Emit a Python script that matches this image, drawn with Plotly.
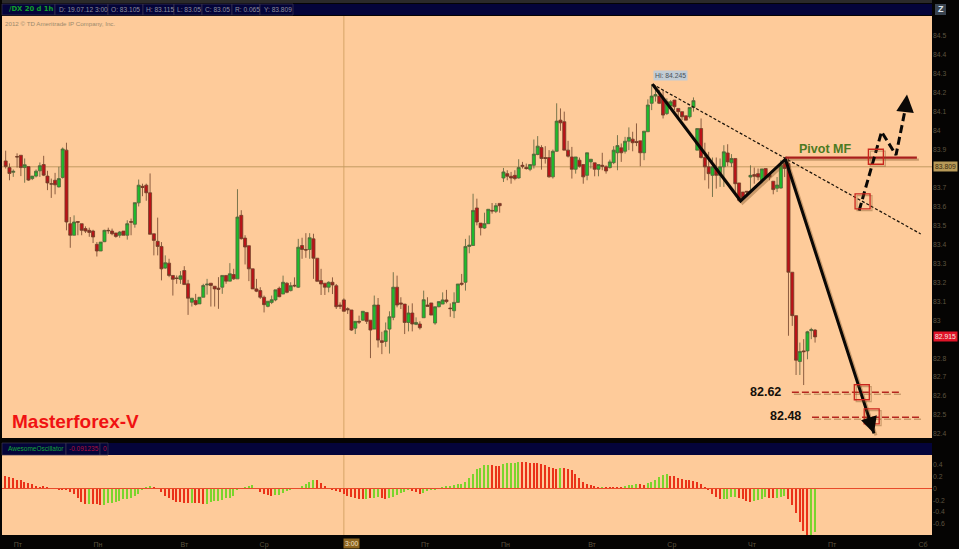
import plotly.graph_objects as go

# ---------- price candles (bar by bar) ----------
opens = [83.84,83.805,83.78,83.863,83.87,83.805,83.81,83.747,83.76,83.788,83.821,83.76,83.72,83.738,83.703,83.753,83.897,83.509,83.448,83.52,
83.509,83.483,83.474,83.47,83.40,83.365,83.414,83.474,83.47,83.46,83.448,83.47,83.448,83.52,83.506,83.619,83.706,83.712,83.672,83.456,
83.416,83.389,83.275,83.301,83.236,83.223,83.216,83.262,83.192,83.095,83.104,83.086,83.121,83.186,83.195,83.179,83.169,83.174,83.236,83.206,
83.241,83.218,83.553,83.433,83.393,83.271,83.165,83.156,83.121,83.073,83.094,83.107,83.168,83.138,83.195,83.156,83.184,83.174,83.394,83.373,
83.373,83.429,83.327,83.209,83.195,83.174,83.2,83.182,83.08,83.107,83.061,83.054,82.958,82.994,83.0,83.041,83.0,82.953,83.08,82.892,
82.888,82.953,83.015,83.174,83.091,83.085,82.988,83.038,82.978,82.98,83.013,83.08,83.091,82.985,83.071,83.085,83.107,83.064,83.05,83.094,
83.195,83.2,83.389,83.394,83.592,83.512,83.486,83.509,83.579,83.574,83.616,83.75,83.773,83.759,83.764,83.75,83.817,83.805,83.796,83.817,
83.874,83.911,83.858,83.858,83.756,83.891,84.055,84.047,83.897,83.861,83.796,83.844,83.821,83.764,83.835,83.83,83.796,83.817,83.809,83.805,
83.831,83.883,83.909,83.891,83.944,83.955,83.943,83.946,83.883,83.994,84.144,84.182,84.182,84.17,84.09,84.13,84.161,84.117,84.1,84.078,
84.073,84.122,83.897,84.011,83.858,83.809,83.764,83.8,83.764,83.809,83.882,83.83,83.853,83.724,83.676,83.68,83.755,83.768,83.773,83.738,
83.80,83.768,83.733,83.696,83.697,83.826,83.826,83.253,83.024,82.782,82.838,82.838,82.945,82.948]
highs = [83.894,83.827,83.795,83.88,83.87,83.853,83.81,83.76,83.795,83.832,83.867,83.788,83.747,83.777,83.809,83.911,83.936,83.544,83.553,83.52,
83.509,83.495,83.488,83.477,83.412,83.412,83.477,83.488,83.483,83.46,83.47,83.47,83.527,83.536,83.62,83.742,83.72,83.72,83.774,83.456,
83.541,83.412,83.342,83.324,83.236,83.236,83.259,83.285,83.213,83.116,83.139,83.121,83.192,83.218,83.195,83.179,83.227,83.236,83.236,83.301,
83.271,83.691,83.58,83.448,83.393,83.271,83.218,83.174,83.13,83.10,83.13,83.16,83.177,83.235,83.20,83.20,83.226,83.429,83.435,83.459,
83.459,83.456,83.327,83.271,83.195,83.205,83.226,83.191,83.094,83.115,83.068,83.054,82.994,83.024,83.047,83.041,83.0,83.13,83.117,82.939,
82.988,83.047,83.253,83.235,83.121,83.085,83.077,83.089,83.015,82.994,83.156,83.121,83.091,83.071,83.098,83.147,83.16,83.089,83.147,83.191,
83.244,83.429,83.447,83.667,83.641,83.512,83.567,83.585,83.618,83.618,83.616,83.803,83.791,83.782,83.791,83.849,83.835,83.826,83.821,83.953,
83.971,83.923,83.918,83.897,83.90,84.144,84.117,84.10,83.946,83.914,83.861,83.858,83.821,83.883,83.849,83.83,83.821,83.883,83.817,83.847,
83.918,83.976,83.932,83.967,84.017,83.994,84.038,83.946,83.997,84.165,84.245,84.24,84.214,84.214,84.17,84.161,84.161,84.117,84.1,84.078,
84.122,84.175,84.011,84.064,83.936,83.888,83.858,83.858,83.853,83.923,83.928,83.876,83.853,83.724,83.676,83.68,83.817,83.805,83.80,83.798,
83.80,83.768,83.733,83.755,83.844,83.853,83.86,83.253,83.024,82.882,82.90,82.944,82.96,82.953]
lows = [83.80,83.738,83.756,83.805,83.76,83.725,83.735,83.739,83.753,83.756,83.76,83.686,83.645,83.664,83.70,83.747,83.474,83.382,83.448,83.448,
83.448,83.46,83.44,83.407,83.336,83.365,83.412,83.456,83.448,83.435,83.435,83.448,83.425,83.448,83.488,83.60,83.654,83.63,83.453,83.342,
83.342,83.21,83.271,83.227,83.13,83.192,83.192,83.188,83.028,83.072,83.077,83.086,83.121,83.135,83.072,83.072,83.06,83.139,83.192,83.206,
83.213,83.218,83.425,83.294,83.206,83.165,83.148,83.112,83.041,83.068,83.085,83.10,83.121,83.138,83.142,83.152,83.174,83.17,83.324,83.329,
83.324,83.218,83.205,83.133,83.133,83.147,83.138,83.059,83.059,83.047,83.033,82.944,82.927,82.98,82.997,82.98,82.80,82.953,82.856,82.821,
82.86,82.824,83.0,83.068,83.059,82.927,82.941,82.941,82.974,82.951,83.013,83.073,83.027,82.976,83.068,83.085,83.089,83.018,83.011,83.094,
83.182,83.156,83.353,83.394,83.5,83.447,83.482,83.509,83.562,83.565,83.567,83.729,83.738,83.72,83.738,83.747,83.80,83.794,83.786,83.80,
83.87,83.794,83.826,83.752,83.747,83.888,83.999,83.897,83.858,83.747,83.773,83.805,83.72,83.738,83.80,83.759,83.759,83.791,83.773,83.80,
83.823,83.791,83.835,83.879,83.897,83.891,83.918,83.812,83.844,83.994,84.108,84.153,84.14,84.064,84.082,84.112,84.108,84.064,84.055,84.055,
84.064,84.10,83.897,83.853,83.738,83.694,83.65,83.694,83.703,83.703,83.812,83.808,83.664,83.623,83.64,83.65,83.676,83.72,83.738,83.729,
83.747,83.738,83.664,83.676,83.694,83.755,82.918,82.97,82.711,82.711,82.658,82.794,82.90,82.882]
closes = [83.81,83.774,83.785,83.861,83.805,83.82,83.739,83.76,83.786,83.815,83.765,83.724,83.718,83.714,83.747,83.903,83.518,83.448,83.518,83.517,
83.474,83.47,83.463,83.439,83.365,83.412,83.474,83.472,83.456,83.442,83.465,83.448,83.509,83.517,83.62,83.712,83.70,83.672,83.453,83.421,
83.389,83.271,83.303,83.236,83.216,83.22,83.234,83.188,83.116,83.116,83.083,83.121,83.183,83.19,83.183,83.165,83.163,83.236,83.206,83.245,
83.218,83.544,83.43,83.386,83.271,83.165,83.153,83.121,83.082,83.10,83.108,83.16,83.124,83.20,83.147,83.182,83.181,83.385,83.373,83.37,
83.435,83.327,83.205,83.191,83.174,83.20,83.186,83.071,83.073,83.047,83.055,82.948,82.994,82.99,83.047,82.994,82.948,83.08,82.895,82.883,
82.944,83.018,83.174,83.08,83.085,82.988,83.038,82.98,82.988,82.96,83.108,83.073,83.027,83.071,83.098,83.107,83.098,83.061,83.094,83.191,
83.19,83.389,83.396,83.579,83.518,83.488,83.509,83.585,83.576,83.604,83.604,83.782,83.759,83.75,83.747,83.805,83.812,83.80,83.821,83.876,
83.918,83.853,83.853,83.756,83.891,84.05,84.041,83.897,83.865,83.796,83.861,83.812,83.756,83.883,83.849,83.796,83.821,83.812,83.787,83.835,
83.897,83.921,83.883,83.944,83.964,83.936,83.937,83.883,83.997,84.135,84.182,84.19,84.144,84.082,84.152,84.152,84.126,84.10,84.073,84.055,
84.122,84.158,84.011,83.858,83.809,83.773,83.809,83.764,83.809,83.888,83.835,83.853,83.72,83.632,83.646,83.676,83.764,83.759,83.755,83.798,
83.755,83.755,83.689,83.713,83.817,83.80,83.253,83.024,82.789,82.835,82.834,82.939,82.95,82.912]

# ---------- Awesome Oscillator ----------
ao_values = [.218,.195,.172,.144,.138,.105,.088,.076,.048,.03,.035,.02,.002,.002,-.01,-.01,-.02,-.054,-.1,-.155,
-.223,-.257,-.263,-.257,-.257,-.274,-.28,-.251,-.24,-.223,-.206,-.184,-.172,-.167,-.127,-.1,-.025,.025,.042,.02,
.002,-.065,-.12,-.167,-.195,-.223,-.234,-.246,-.251,-.251,-.251,-.251,-.263,-.257,-.223,-.212,-.206,-.195,-.167,-.155,
-.12,-.025,.002,.03,.048,.06,.002,-.054,-.1,-.116,-.127,-.116,-.11,-.082,-.042,-.025,-.008,.002,.042,.07,
.116,.144,.144,.099,.048,.002,-.014,-.042,-.065,-.088,-.121,-.144,-.161,-.178,-.184,-.178,-.167,-.155,-.15,-.167,
-.178,-.167,-.138,-.11,-.082,-.054,-.03,-.037,-.065,-.1,-.07,-.042,-.025,-.014,.002,.03,.042,.048,.06,.07,
.082,.116,.172,.24,.325,.353,.393,.398,.393,.376,.376,.415,.427,.427,.438,.455,.449,.444,.432,.432,
.427,.41,.393,.37,.342,.33,.342,.342,.33,.308,.246,.172,.116,.082,.06,.042,.025,.025,.02,.014,
.014,.014,.025,.042,.054,.065,.076,.07,.06,.093,.116,.144,.195,.229,.24,.218,.206,.172,.155,.144,
.138,.127,.105,.076,.02,-.02,-.1,-.138,-.178,-.172,-.172,-.144,-.138,-.155,-.184,-.212,-.223,-.212,-.195,-.178,
-.15,-.155,-.155,-.155,-.15,-.133,-.178,-.28,-.41,-.562,-.72,-.85,-.85,-.74]
# first and last bar of each green (rising) run of the oscillator
ao_green_first = [22,26,49,53,71,95,97,101,110,131,146,157,163,169,189,197,203,212]
ao_green_last = [22,38,49,65,81,95,98,106,127,135,146,157,166,174,192,200,205,213]

# ---------- axis labels (83.8 and 82.9 sit behind the price tags) ----------
price_ticks = [84.5,84.4,84.3,84.2,84.1,84.0,83.9,83.7,83.6,83.5,83.4,83.3,83.2,83.1,83.0,82.8,82.7,82.6,82.5,82.4]
price_labels = ["84.5","84.4","84.3","84.2","84.1","84","83.9","83.7","83.6","83.5","83.4","83.3","83.2","83.1","83","82.8","82.7","82.6","82.5","82.4"]
ao_ticks = [.4,.2,0,-.2,-.4,-.6]
ao_labels = ["0.4","0.2","0","-0.2","-0.4","-0.6"]
day_positions = [3.2,24.3,47,68,110.4,131.5,154.3,175.3,196.4,217.5,241.4]
day_labels = ["Пт","Пн","Вт","Ср","Пт","Пн","Вт","Ср","Чт","Пт","Сб"]

# ---------- hand-drawn analysis on the chart, as (bar, price) ----------
solid_bars = [170.2,193.4,205.2]
solid_prices = [84.245,83.629,83.849]
arrow_down_tip = (228.5,82.403)
trend_bars = [170.2,240.8]
trend_prices = [84.245,83.455]
dashed_bars = [224.6,230.5,234.3,236.6]
dashed_prices = [83.578,83.994,83.871,84.10]
arrow_up_tip = (237.2,84.19)
pivot_bars = [205.2,239.8]
pivot_price = 83.857
target_1 = 82.62
target_1_bars = [206.9,235.3]
target_2 = 82.488
target_2_bars = [212.2,240.6]
box_bars = [225.5,229.0,225.3,227.9]
box_prices = [83.627,83.862,82.62,82.493]
cursor_bar = 89
cursor_price = 83.809
last_price = 82.915

# ---------- pixel frame ----------
W, H = 959, 549
PL, PR = 2, 932
MT, MB = 16, 438
ST, SB = 455, 535
px_per_bar = 3.8
x0_px = 5.67
xr = [(PL - x0_px) / px_per_bar, (PR - x0_px) / px_per_bar]
px_per_unit = 189.6
yr = [84.5 - (MB - 35.8) / px_per_unit, 84.5 + (35.8 - MT) / px_per_unit]
ao_px = 59.0
ao_zero = 488.5
ar = [-(SB - ao_zero) / ao_px, (ao_zero - ST) / ao_px]

BG = "#fecb9a"
NAVY = "#04043a"
SHADOW = "rgba(125,80,35,0.40)"
FONT = "Liberation Sans"
GREY = "#5e5440"
n = len(closes)
bars = list(range(n))

fig = go.Figure()
fig.add_trace(go.Candlestick(
    x=bars, open=opens, high=highs, low=lows, close=closes, xaxis="x", yaxis="y",
    increasing=dict(line=dict(color="#56603a", width=0.8), fillcolor="#1dbc2c"),
    decreasing=dict(line=dict(color="#6e4028", width=0.8), fillcolor="#bc1218"),
    whiskerwidth=0, showlegend=False, hoverinfo="skip"))

green = set()
for a, b in zip(ao_green_first, ao_green_last):
    green.update(range(a, b + 1))
ao_cols = ["#7ad42c" if i in green else "#ea3218" for i in bars]
fig.add_trace(go.Bar(x=bars, y=ao_values, marker=dict(color=ao_cols, line=dict(width=0)),
                     width=0.36, xaxis="x2", yaxis="y2", showlegend=False, hoverinfo="skip"))


def line(xs, ys, color, width, dash="solid", shadow=False):
    if shadow:
        dx = 2 / px_per_bar
        dy = 2 / px_per_unit
        fig.add_trace(go.Scatter(x=[v + dx for v in xs], y=[v - dy for v in ys], mode="lines",
                                 line=dict(color=SHADOW, width=width, dash=dash),
                                 xaxis="x", yaxis="y", showlegend=False, hoverinfo="skip"))
    fig.add_trace(go.Scatter(x=xs, y=ys, mode="lines", line=dict(color=color, width=width, dash=dash),
                             xaxis="x", yaxis="y", showlegend=False, hoverinfo="skip"))


line(trend_bars, trend_prices, "#1a1208", 1.2, "3px,2px")
line(solid_bars + [arrow_down_tip[0]], solid_prices + [arrow_down_tip[1]], "#0a0806", 3, shadow=True)
line(pivot_bars, [pivot_price, pivot_price], "#a81f1c", 2.2, shadow=True)
line(target_1_bars, [target_1, target_1], "#b5261e", 1.5, "7px,3px", shadow=True)
line(target_2_bars, [target_2, target_2], "#b5261e", 1.5, "7px,3px", shadow=True)
line(dashed_bars, dashed_prices, "#0a0806", 3, "8px,4px")

fig.add_trace(go.Scatter(x=[b + 0.5 for b in box_bars], y=[p - 0.01 for p in box_prices], mode="markers",
                         marker=dict(symbol="square-open", size=15, color=SHADOW, line=dict(width=1.2, color=SHADOW)),
                         xaxis="x", yaxis="y", showlegend=False, hoverinfo="skip"))
fig.add_trace(go.Scatter(x=box_bars, y=box_prices, mode="markers",
                         marker=dict(symbol="square-open", size=15, color="#c9261c", line=dict(width=1.3, color="#c9261c")),
                         xaxis="x", yaxis="y", showlegend=False, hoverinfo="skip"))

annos = []


def ptext(x, y, s, size, color, anchor="left", bold=False, bg=None, family=FONT, pad=0):
    annos.append(dict(xref="paper", yref="paper", x=x / W, y=1 - y / H, text=f"<b>{s}</b>" if bold else s,
                      showarrow=False, xanchor=anchor, yanchor="middle",
                      font=dict(family=family, size=size, color=color), bgcolor=bg, borderpad=pad))


# arrow heads
annos.append(dict(x=arrow_down_tip[0], y=arrow_down_tip[1], ax=arrow_down_tip[0] - 1.6, ay=arrow_down_tip[1] + 0.1,
                  xref="x", yref="y", axref="x", ayref="y", text="", showarrow=True,
                  arrowhead=2, arrowsize=1.1, arrowwidth=3, arrowcolor="#0a0806"))
annos.append(dict(x=arrow_up_tip[0], y=arrow_up_tip[1], ax=arrow_up_tip[0] - 0.5, ay=arrow_up_tip[1] - 0.09,
                  xref="x", yref="y", axref="x", ayref="y", text="", showarrow=True,
                  arrowhead=2, arrowsize=1.1, arrowwidth=3.2, arrowcolor="#0a0806"))

shapes = []


def prect(x0, y0, x1, y1, color, line_color=None):
    shapes.append(dict(type="rect", xref="paper", yref="paper", x0=x0 / W, x1=x1 / W, y0=1 - y0 / H, y1=1 - y1 / H,
                       fillcolor=color, line=dict(width=0.7 if line_color else 0, color=line_color or color), layer="below"))


# panels and header bars
prect(PL, MT, PR, MB, BG)
prect(PL, ST, PR, SB, BG)
prect(PL, 4, PR, 15, NAVY)
prect(PL, 443, PR, 455, NAVY)
prect(PL, 0, PR, 3, "#2b2a2a")
prect(935, 4, 946, 15, "#3a4450")
# header cells
for a, b in [(2, 55), (55, 108), (108, 143), (143, 174), (174, 202), (202, 232), (232, 260), (260, 293)]:
    prect(a, 4, b, 15, NAVY, "#3c3650")
for a, b in [(2, 66), (66, 100), (100, 108)]:
    prect(a, 443, b, 455, NAVY, "#3c3650")

# crosshair
shapes.append(dict(type="line", xref="x", yref="y", x0=xr[0], x1=xr[1], y0=cursor_price, y1=cursor_price,
                   line=dict(color="#c49a62", width=1), layer="below"))
shapes.append(dict(type="line", xref="x", yref="paper", x0=cursor_bar, x1=cursor_bar, y0=1 - MB / H, y1=1 - MT / H,
                   line=dict(color="#d6a468", width=1), layer="below"))
shapes.append(dict(type="line", xref="x", yref="paper", x0=cursor_bar, x1=cursor_bar, y0=1 - SB / H, y1=1 - ST / H,
                   line=dict(color="#d6a468", width=1), layer="below"))
# oscillator zero line
shapes.append(dict(type="line", xref="x2", yref="y2", x0=xr[0], x1=xr[1], y0=0, y1=0,
                   line=dict(color="#e84a2a", width=1), layer="above"))

# header texts
ptext(8, 9.5, "/DX 20 d 1h", 6.8, "#12a02c", bold=True, family="DejaVu Sans")
for xp, s in [(58, "D: 19.07.12 3:00"), (110, "O: 83.105"), (145, "H: 83.115"), (176, "L: 83.05"),
              (204, "C: 83.05"), (234, "R: 0.065"), (263, "Y: 83.809")]:
    ptext(xp, 9.5, s, 6.6, "#8e8e9c")
ptext(4, 23, "2012 © TD Ameritrade IP Company, Inc.", 6.2, "#9c8a6c")
ptext(7, 448.5, "AwesomeOscillator", 6.5, "#14a43c")
ptext(68, 448.5, "-0.091235", 6.5, "#b01040")
ptext(102, 448.5, "0", 6.5, "#b01040")
ptext(940.5, 9.5, "Z", 9, "#dfe6ee", anchor="center", bold=True)

# chart texts
ptext(11, 421, "Masterforex-V", 19, "#f01212", bold=True)
ptext(798, 149, "Pivot MF", 12.5, "#4c7a22", bold=True)
ptext(749, 392, "82.62", 12.5, "#14100a", bold=True)
ptext(769, 416, "82.48", 12.5, "#14100a", bold=True)
ptext(670, 75, "Hi: 84.245", 6.8, "#4a5058", anchor="center", bg="#c2ccd4", pad=1)

# price tags
tag_y = 35.8 + (84.5 - cursor_price) * px_per_unit
ptext(945, tag_y, f"{cursor_price:.3f}", 6.8, "#3a2c10", anchor="center", bg="#b89a58", pad=1)
tag_y2 = 35.8 + (84.5 - last_price) * px_per_unit
ptext(945, tag_y2, f"{last_price:.3f}", 6.8, "#f4e8e0", anchor="center", bg="#e01428", pad=1)
ptext(351, 543, "3:00", 6.8, "#f0e0c0", anchor="center", bg="#8c6420", pad=1)

axis_common = dict(showgrid=False, zeroline=False, showline=False)
fig.update_layout(
    width=W, height=H, margin=dict(l=0, r=0, t=0, b=0), autosize=False,
    paper_bgcolor="#050403", plot_bgcolor="rgba(0,0,0,0)", showlegend=False, boxgap=0.2, boxgroupgap=0,
    bargap=0, shapes=shapes, annotations=annos, font=dict(family=FONT),
    xaxis=dict(domain=[PL / W, PR / W], range=xr, anchor="y", rangeslider=dict(visible=False),
               showticklabels=False, ticks="", **axis_common),
    yaxis=dict(domain=[1 - MB / H, 1 - MT / H], range=yr, anchor="x", side="right", ticks="",
               tickmode="array", tickvals=price_ticks, ticktext=price_labels,
               tickfont=dict(size=6.8, color=GREY), **axis_common),
    xaxis2=dict(domain=[PL / W, PR / W], range=xr, anchor="y2", ticks="outside", ticklen=3, tickcolor="rgba(0,0,0,0)",
                tickmode="array", tickvals=day_positions, ticktext=day_labels,
                tickfont=dict(size=7, color=GREY), **axis_common),
    yaxis2=dict(domain=[1 - SB / H, 1 - ST / H], range=ar, anchor="x2", side="right", ticks="",
                tickmode="array", tickvals=ao_ticks, ticktext=ao_labels,
                tickfont=dict(size=6.8, color=GREY), **axis_common),
)
fig.write_html("out.html", config=dict(displayModeBar=False),
               post_script="document.body.style.margin='0';document.documentElement.style.background='#050403';document.body.style.overflow='hidden';")
